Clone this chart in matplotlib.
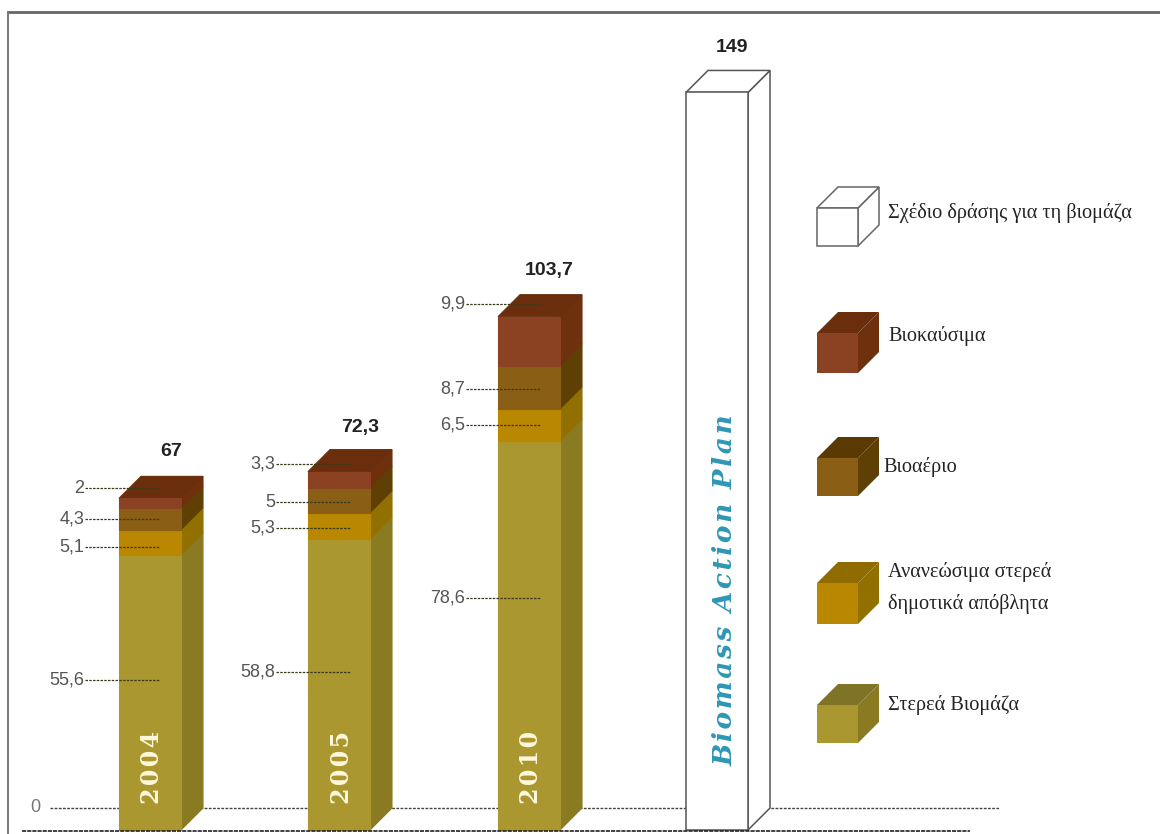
import matplotlib
matplotlib.use("Agg")
import matplotlib.pyplot as plt
from matplotlib.patches import Polygon

# ---- data ----
years = ["2004", "2005", "2010"]
solid_biomass = [55.6, 58.8, 78.6]
renewable_msw = [5.1, 5.3, 6.5]
biogas = [4.3, 5.0, 8.7]
biofuels = [2.0, 3.3, 9.9]
totals = ["67", "72,3", "103,7"]
plan_total = 149
plan_label = "149"
plan_name = "Biomass Action Plan"
solid_labels = ["55,6", "58,8", "78,6"]
msw_labels = ["5,1", "5,3", "6,5"]
biogas_labels = ["4,3", "5", "8,7"]
biofuel_labels = ["2", "3,3", "9,9"]
legend_names = ["Σχέδιο δράσης για τη βιομάζα", "Βιοκαύσιμα", "Βιοαέριο",
                "Ανανεώσιμα στερεά\nδημοτικά απόβλητα", "Στερεά Βιομάζα"]

# ---- style / layout (pixels of the 1160x834 canvas) ----
W, H = 1160, 834
BASE, PX = 830, 4.95
front_left = [119, 308, 498]
BW, DEPTH = 62, 22
plan_left = 686
face = ["#AA972F", "#B98700", "#8A5E14", "#8B4222"]
side = ["#8A7A22", "#927000", "#5F4004", "#6F300E"]
top_c = ["#7F7426", "#8F6B00", "#5A3A02", "#6B2E0C"]
label_py = [[680, 547, 519, 488], [672, 528, 502, 464], [598, 425, 389, 304]]
total_xy = [(171, 451), (360, 427), (549, 270)]
label_right = [84, 275, 465]
line_end = [160, 350, 540]
year_x = [152, 342, 531]
legend_cubes = [(208, 246), (333, 373), (458, 496), (583, 624), (705, 743)]
legend_text_y = [213, 336, 467, 588, 705]
legend_text_x = [888, 888, 883, 888, 888]
GREY = "#555555"
SANS = "Liberation Sans"
SERIF = "Liberation Serif"
THIN = "\u200a"

fig = plt.figure(figsize=(W / 100, H / 100), dpi=100, facecolor="white")
ax = fig.add_axes([0, 0, 1, 1])
ax.set_xlim(0, W)
ax.set_ylim((BASE - H) / PX, BASE / PX)      # y axis in data units
ax.axis("off")
pix = fig.add_axes([0, 0, 1, 1], zorder=3)   # overlay in canvas pixels
pix.set_xlim(0, W)
pix.set_ylim(H, 0)
pix.axis("off")
pix.patch.set_alpha(0)

D = DEPTH / PX


def box(x, lo, hi, fc, sc, tc=None, ec=None, lw=0.8, z=3):
    ax.add_patch(Polygon([(x + BW, lo), (x + BW + DEPTH, lo + D), (x + BW + DEPTH, hi + D), (x + BW, hi)],
                         fc=sc, ec=ec or sc, lw=lw, zorder=z))
    if tc is not None:
        ax.add_patch(Polygon([(x, hi), (x + BW, hi), (x + BW + DEPTH, hi + D), (x + DEPTH, hi + D)],
                             fc=tc, ec=ec or tc, lw=lw, zorder=z))
    ax.add_patch(Polygon([(x, lo), (x + BW, lo), (x + BW, hi), (x, hi)], fc=fc, ec=ec or fc, lw=lw, zorder=z))


# frame and base lines
pix.plot([8, W], [12, 12], color="#666666", lw=2.0)
pix.plot([8, 8], [12, H], color="#777777", lw=1.4)
ax.plot([50, 1000], [D, D], color="#444444", lw=1.0, ls=(0, (2, 1)), zorder=1)
pix.plot([22, 970], [831, 831], color="#222222", lw=1.2, ls=(0, (2.5, 0.6)), zorder=6)
pix.text(35, 808, "0", fontsize=13, color="#777777", family=SANS, ha="center", va="center")

# stacked bars
for i, yr in enumerate(years):
    seg = [solid_biomass[i], renewable_msw[i], biogas[i], biofuels[i]]
    texts = [solid_labels[i], msw_labels[i], biogas_labels[i], biofuel_labels[i]]
    lo = 0
    for j, v in enumerate(seg):
        box(front_left[i], lo, lo + v, face[j], side[j], top_c[j] if j == 3 else None)
        lo += v
    for py, t in zip(label_py[i], texts):
        pix.text(label_right[i], py, t, fontsize=13, color=GREY, family=SANS, ha="right", va="center")
        pix.plot([label_right[i] + 1, line_end[i]], [py, py], color="#3a3a1a", lw=0.9, ls=(0, (2, 1)), zorder=4)
    pix.text(*total_xy[i], totals[i], fontsize=14, color="#222222", family=SANS, weight="bold",
             ha="center", va="center")
    pix.text(year_x[i], 804, THIN.join(yr), fontsize=17, color="#FFF8DC", family="DejaVu Serif",
             weight="bold", rotation=90, ha="left", va="center", rotation_mode="anchor")

# plan bar
box(plan_left, 0, plan_total, "white", "white", "white", ec="#555555", lw=1.1)
pix.text(732, 47, plan_label, fontsize=14, color="#222222", family=SANS, weight="bold",
         ha="center", va="center")
pix.text(725, 766, THIN.join(plan_name), fontsize=19, color="#2E97B5", family="DejaVu Serif", style="italic",
         weight="bold", rotation=90, ha="left", va="center", rotation_mode="anchor")

# legend
cube_face = ["white", face[3], face[2], face[1], face[0]]
cube_side = ["white", side[3], side[2], side[1], side[0]]
cube_top = ["white", top_c[3], top_c[2], top_c[1], top_c[0]]
for k, name in enumerate(legend_names):
    t, b = legend_cubes[k]
    ec = "#666666" if k == 0 else "none"
    x0, x1, x2 = 817, 858, 879
    for pts, fc in (([(x1, b), (x2, b - 21), (x2, t - 21), (x1, t)], cube_side[k]),
                    ([(x0, t), (x1, t), (x2, t - 21), (x0 + 21, t - 21)], cube_top[k]),
                    ([(x0, t), (x1, t), (x1, b), (x0, b)], cube_face[k])):
        pix.add_patch(Polygon(pts, fc=fc, ec=ec, lw=1.1, zorder=5))
    pix.text(legend_text_x[k], legend_text_y[k], name, fontsize=14.6, color="#222222", family=SERIF,
             ha="left", va="center", linespacing=1.8, zorder=6)

fig.savefig("out.png", dpi=100, facecolor="white")
